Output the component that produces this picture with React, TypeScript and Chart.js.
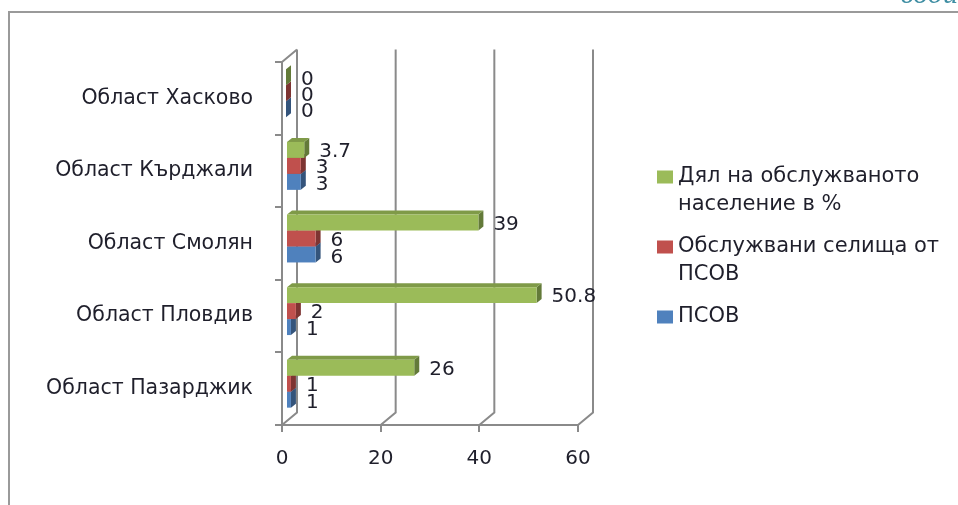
import React, { useEffect, useRef } from "react";
import { Chart, registerables } from "chart.js";

Chart.register(...registerables);

const categories = ["Област Хасково", "Област Кърджали", "Област Смолян", "Област Пловдив", "Област Пазарджик"];
const shareServed = [0, 3.7, 39, 50.8, 26];
const servedSettlements = [0, 3, 6, 2, 1];
const facilities = [0, 3, 6, 1, 1];
const xTicks = [0, 20, 40, 60];
const seriesNames = ["Дял на обслужваното население в %", "Обслужвани селища от ПСОВ", "ПСОВ"];
const legendLines = [["Дял на обслужваното", "население в %"], ["Обслужвани селища от", "ПСОВ"], ["ПСОВ"]];
const cornerText = "води";

const FONT = '"DejaVu Sans", sans-serif';
const SIZE = 20;
const CATEGORY_SIZE = 20.5;
const LEGEND_SIZE = 21;
const TEXT = "#1f1f2b";
const GRID = "#8a8a8a";
const front = ["#9bbb59", "#c0504d", "#4f81bd"];
const top = ["#7f9a48", "#9e413f", "#41699b"];
const side = ["#637a39", "#7d3432", "#34547b"];

const BAR_DX = 4;
const BAR_DY = -5;
const DEPTH_X = 5;
const DEPTH_Y = -4;
const WALL_DX = 15;
const WALL_DY = -12.5;

const wallsPlugin = {
  id: "walls",
  beforeDatasetsDraw(chart: any) {
    const { ctx, chartArea, scales } = chart;
    const { top: t, bottom: b, left: l } = chartArea;
    ctx.save();
    ctx.strokeStyle = GRID;
    ctx.lineWidth = 2;
    ctx.beginPath();
    ctx.moveTo(l, t);
    ctx.lineTo(l + WALL_DX, t + WALL_DY);
    xTicks.forEach((v) => {
      const x = scales.x.getPixelForValue(v);
      ctx.moveTo(x, b);
      ctx.lineTo(x + WALL_DX, b + WALL_DY);
      ctx.lineTo(x + WALL_DX, t + WALL_DY);
    });
    ctx.stroke();
    ctx.restore();
  },
  afterDraw(chart: any) {
    const { ctx } = chart;
    ctx.save();
    ctx.strokeStyle = "#9a9a9a";
    ctx.lineWidth = 2;
    ctx.beginPath();
    ctx.moveTo(9, 505);
    ctx.lineTo(9, 12);
    ctx.lineTo(958, 12);
    ctx.stroke();
    ctx.fillStyle = "#3f8ea3";
    ctx.font = `italic 30px "Liberation Serif", serif`;
    ctx.textAlign = "right";
    ctx.textBaseline = "alphabetic";
    ctx.fillText(cornerText, 958, 3);
    ctx.restore();
  },
};

const barDepthPlugin = {
  id: "barDepth",
  beforeDatasetDraw(chart: any, args: any) {
    const { ctx } = chart;
    ctx.save();
    ctx.translate(BAR_DX, BAR_DY);
    const i = args.index;
    args.meta.data.forEach((bar: any) => {
      const { x, y, height, base } = bar.getProps(["x", "y", "height", "base"], true);
      const yt = y - height / 2;
      const yb = y + height / 2;
      ctx.fillStyle = side[i];
      ctx.beginPath();
      ctx.moveTo(x, yt);
      ctx.lineTo(x + DEPTH_X, yt + DEPTH_Y);
      ctx.lineTo(x + DEPTH_X, yb + DEPTH_Y);
      ctx.lineTo(x, yb);
      ctx.closePath();
      ctx.fill();
      if (x > base) {
        ctx.fillStyle = top[i];
        ctx.beginPath();
        ctx.moveTo(base, yt);
        ctx.lineTo(base + DEPTH_X, yt + DEPTH_Y);
        ctx.lineTo(x + DEPTH_X, yt + DEPTH_Y);
        ctx.lineTo(x, yt);
        ctx.closePath();
        ctx.fill();
      }
    });
  },
  afterDatasetDraw(chart: any) {
    chart.ctx.restore();
  },
};

const valueLabelPlugin = {
  id: "valueLabels",
  afterDatasetsDraw(chart: any) {
    const { ctx } = chart;
    ctx.save();
    ctx.fillStyle = TEXT;
    ctx.font = `${SIZE}px ${FONT}`;
    ctx.textBaseline = "middle";
    ctx.textAlign = "left";
    chart.data.datasets.forEach((ds: any, i: number) => {
      chart.getDatasetMeta(i).data.forEach((bar: any, j: number) => {
        const { x, y } = bar.getProps(["x", "y"], true);
        ctx.fillText(String(ds.data[j]), x + BAR_DX + DEPTH_X + 10, y + BAR_DY + 2 + (i === 2 ? 1 : 0));
      });
    });
    ctx.restore();
  },
};

const legendPlugin = {
  id: "sideLegend",
  afterDraw(chart: any) {
    const { ctx } = chart;
    const rows = [177, 247, 317];
    ctx.save();
    ctx.font = `${LEGEND_SIZE}px ${FONT}`;
    ctx.textBaseline = "middle";
    ctx.textAlign = "left";
    legendLines.forEach((lines, i) => {
      ctx.fillStyle = front[i];
      ctx.fillRect(657, rows[i] - 6.5, 16, 13);
      ctx.fillStyle = TEXT;
      lines.forEach((line, k) => ctx.fillText(line, 678, rows[i] + k * 28));
    });
    ctx.restore();
  },
};

export default function App() {
  const ref = useRef<HTMLCanvasElement>(null);
  useEffect(() => {
    const chart = new Chart(ref.current!, {
      type: "bar",
      data: {
        labels: categories,
        datasets: [shareServed, servedSettlements, facilities].map((data, i) => ({
          label: seriesNames[i],
          data,
          backgroundColor: front[i],
          barPercentage: 1,
          categoryPercentage: 0.66,
        })),
      },
      options: {
        indexAxis: "y",
        responsive: false,
        animation: false,
        layout: { padding: { left: 0, top: 62, right: 380, bottom: 0 } },
        plugins: { legend: { display: false }, tooltip: { enabled: false } },
        scales: {
          x: {
            min: 0,
            max: 60,
            afterFit: (s: any) => { s.height = 80; },
            afterBuildTicks: (s: any) => { s.ticks = xTicks.map((value) => ({ value })); },
            grid: { drawOnChartArea: false, color: GRID, lineWidth: 2, tickLength: 7 },
            border: { color: GRID, width: 2 },
            ticks: { color: TEXT, font: { family: FONT, size: SIZE }, padding: 15, maxRotation: 0 },
          },
          y: {
            afterFit: (s: any) => { s.width = 282; },
            grid: { drawOnChartArea: false, color: GRID, lineWidth: 2, tickLength: 7 },
            border: { color: GRID, width: 2 },
            ticks: { color: TEXT, font: { family: FONT, size: CATEGORY_SIZE }, padding: 22, crossAlign: "near" },
          },
        },
      },
      plugins: [wallsPlugin, barDepthPlugin, valueLabelPlugin, legendPlugin],
    } as any);
    return () => chart.destroy();
  }, []);
  return (
    <div style={{ position: "absolute", left: 0, top: 0, width: 958, height: 505, background: "#fff", overflow: "hidden" }}>
      <canvas ref={ref} width={958} height={505} style={{ display: "block", filter: "blur(0.5px)" }} />
    </div>
  );
}
